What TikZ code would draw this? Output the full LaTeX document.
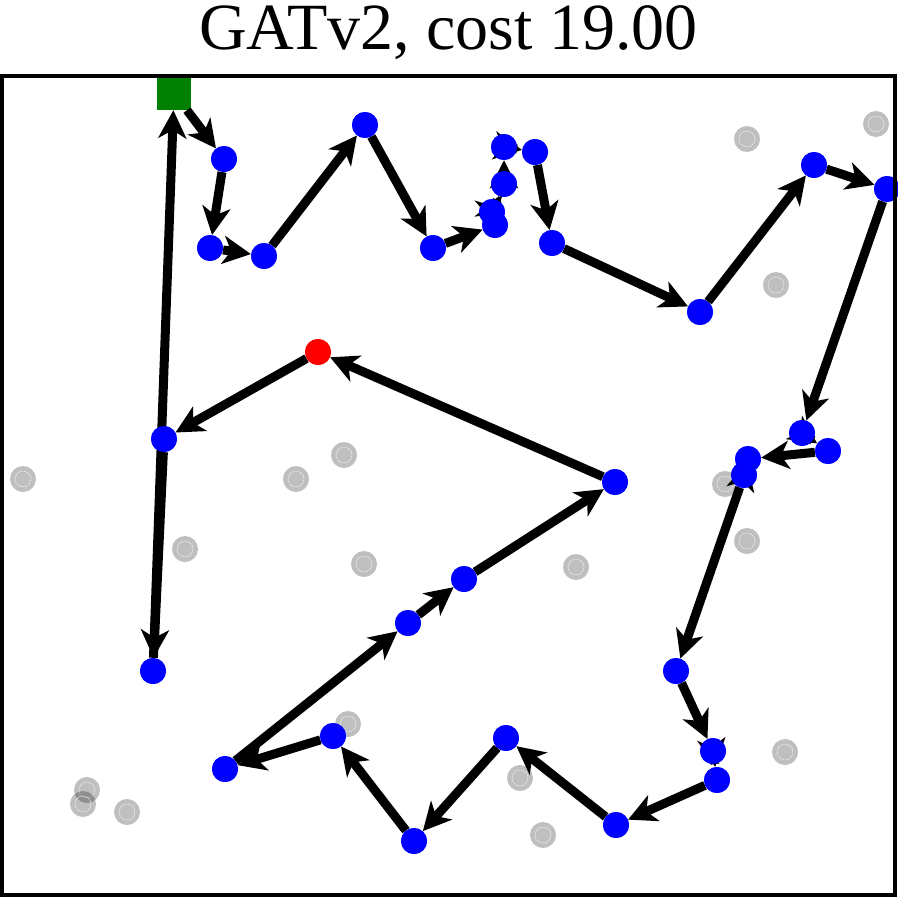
\documentclass[tikz,border=0pt]{standalone}
\usepackage{fontspec}
\setmainfont{Liberation Serif}
\usetikzlibrary{arrows.meta}
\begin{document}
\begin{tikzpicture}[x=1pt,y=-1pt]
\tikzset{
  cust/.style={circle,fill=blue,inner sep=0pt,minimum size=26pt},
  cur/.style={circle,fill=red,inner sep=0pt,minimum size=26pt},
  depot/.style={rectangle,fill=green!50!black,inner sep=0pt,minimum size=34pt},
  other/.style={circle,fill=black,fill opacity=0.25,inner sep=0pt,minimum size=26pt,
    path picture={\draw[white,line width=0.5pt,dash pattern=on 1.5pt off 1pt] (path picture bounding box.center) circle (8pt);}},
  tourarc/.style={line width=9pt,arrows={-Stealth[length=28pt,width=28pt,inset=8pt]}},
  frame/.style={line width=4.5pt}
}
\useasboundingbox (0,0) rectangle (897,897);
\node[anchor=base,inner sep=0pt,font=\fontsize{66}{72}\selectfont] (title) at (448.5,49) {GATv2, cost 19.00};
% unvisited points
\foreach \x/\y [count=\i] in {747/139,876/124,776/285,23/479,344/455,296/479,185/549,364/564,725/484,747/541,576/567,87/790,83/804,127/812,348/724,520/778,543/835,785/752}
  \node[other] (g\i) at (\x,\y) {};
% route nodes
\node[depot] (D) at (174,93) {};
\node[cust] (a1) at (224,159) {};
\node[cust] (a2) at (210,248) {};
\node[cust] (a3) at (264,256) {};
\node[cust] (a4) at (365,125) {};
\node[cust] (a5) at (433,248) {};
\node[cust] (b5) at (495,225) {};
\node[cust] (b4) at (492,212) {};
\node[cust] (b3) at (504,184) {};
\node[cust] (b1) at (504,147) {};
\node[cust] (b2) at (535,152) {};
\node[cust] (b6) at (552,243) {};
\node[cust] (c1) at (700,312) {};
\node[cust] (b7) at (814,165) {};
\node[cust] (b8) at (887,189) {};
\node[cust] (c2) at (802,433) {};
\node[cust] (c3) at (828,451) {};
\node[cust] (c4) at (748,459) {};
\node[cust] (c5) at (744,475) {};
\node[cust] (f1) at (676,671) {};
\node[cust] (f2) at (713,751) {};
\node[cust] (f3) at (717,780) {};
\node[cust] (f4) at (616,825) {};
\node[cust] (f5) at (506,738) {};
\node[cust] (e5) at (414,841) {};
\node[cust] (e3) at (333,736) {};
\node[cust] (e4) at (225,769) {};
\node[cust] (e2) at (408,623) {};
\node[cust] (c7) at (464,579) {};
\node[cust] (c6) at (615,482) {};
\node[cur] (r) at (318,352) {};
\node[cust] (d1) at (164,439) {};
\node[cust] (e1) at (153,671) {};
% tour
\foreach \s/\t in {D/a1,a1/a2,a2/a3,a3/a4,a4/a5,a5/b5,b5/b4,b4/b3,b3/b1,b1/b2,b2/b6,b6/c1,c1/b7,b7/b8,b8/c2,c2/c3,c3/c4,c4/c5,c5/f1,f1/f2,f2/f3,f3/f4,f4/f5,f5/e5,e5/e3,e3/e4,e4/e2,e2/c7,c7/c6,c6/r,r/d1,d1/e1,e1/D}
  \draw[tourarc] (\s) -- (\t);
% redraw nodes above edges
\foreach \n in {a1,a2,a3,a4,a5,b5,b4,b3,b1,b2,b6,c1,b7,b8,c2,c3,c4,c5,f1,f2,f3,f4,f5,e5,e3,e4,e2,c7,c6,d1,e1}
  \fill[blue] (\n) circle (13pt);
\fill[red] (r) circle (13pt);
\draw[frame] (2,76) rectangle (895,895);
\end{tikzpicture}
\end{document}
